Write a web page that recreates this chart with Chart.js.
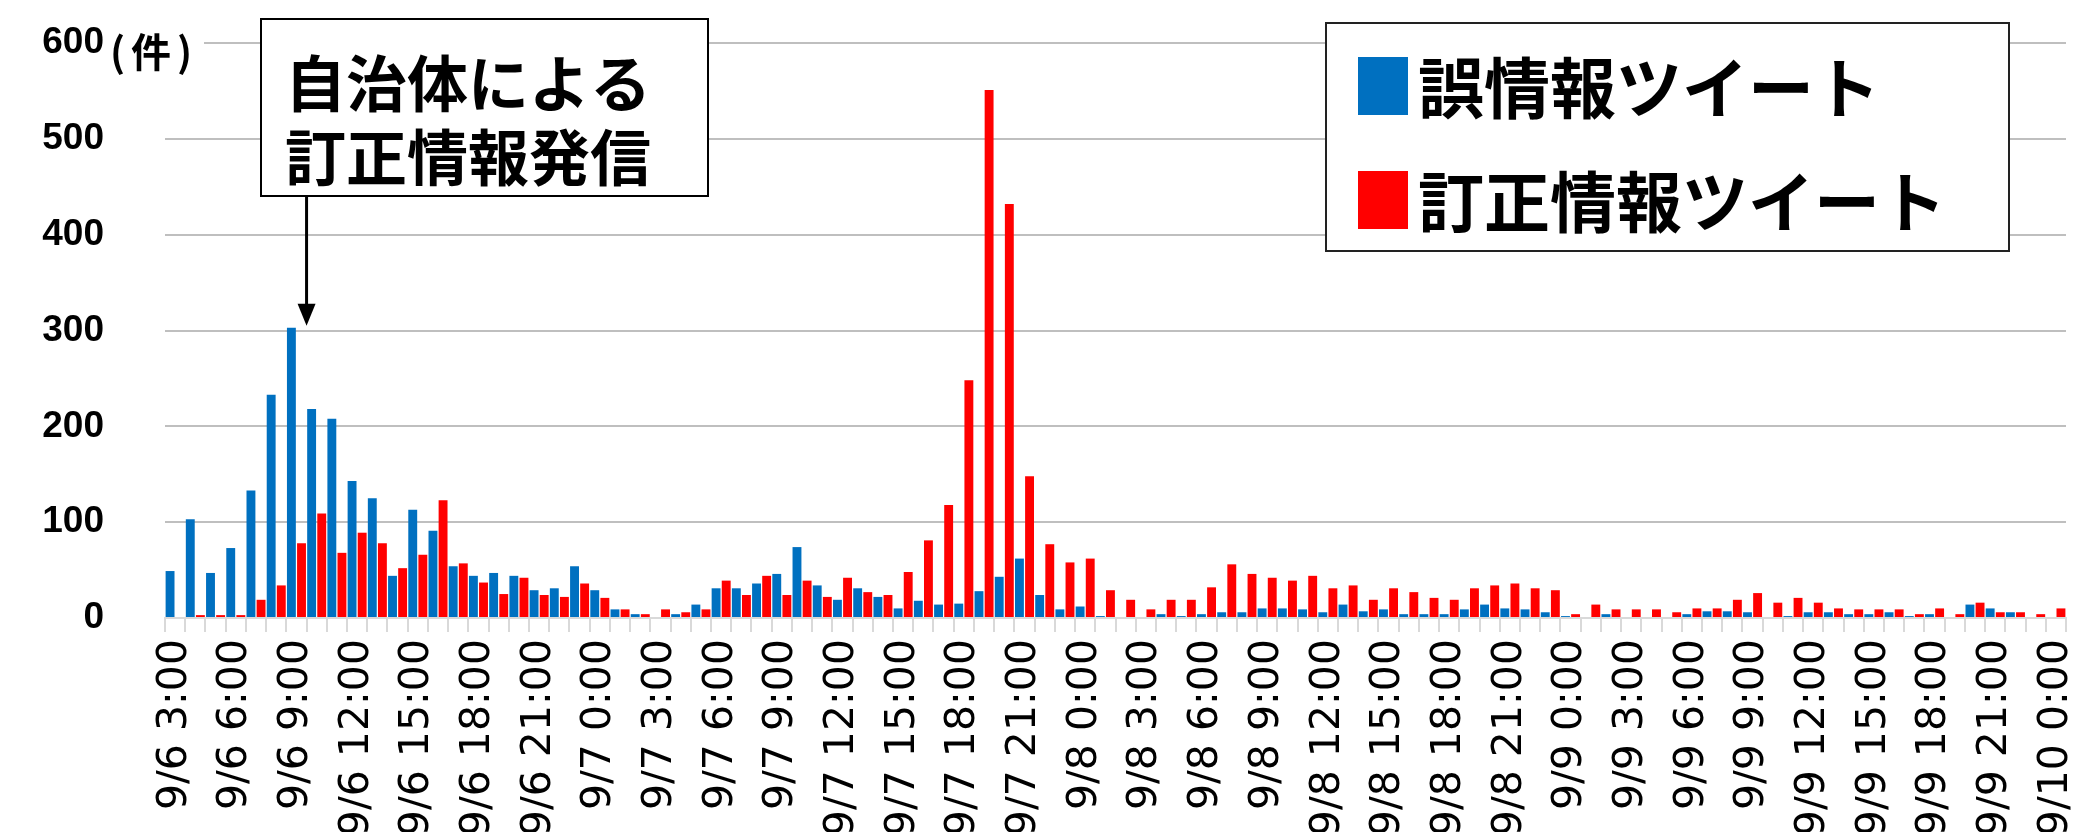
<!DOCTYPE html>
<html lang="ja">
<head>
<meta charset="utf-8">
<script src="https://cdn.jsdelivr.net/npm/chart.js@4/dist/chart.umd.min.js"></script>
<style>
    html, body { margin: 0; padding: 0; background: #fff; overflow: hidden; }
    #wrap { position: relative; width: 2096px; height: 835px; }
</style>
</head>
<body>
<div id="wrap"><canvas id="tweetChart"></canvas></div>
<script>
// hourly categories, 9/6 3:00 - 9/10 0:00
const categories = [
    '9/6 3:00', '9/6 4:00', '9/6 5:00', '9/6 6:00', '9/6 7:00', '9/6 8:00', '9/6 9:00', '9/6 10:00',
    '9/6 11:00', '9/6 12:00', '9/6 13:00', '9/6 14:00', '9/6 15:00', '9/6 16:00', '9/6 17:00', '9/6 18:00',
    '9/6 19:00', '9/6 20:00', '9/6 21:00', '9/6 22:00', '9/6 23:00',
    '9/7 0:00', '9/7 1:00', '9/7 2:00', '9/7 3:00', '9/7 4:00', '9/7 5:00', '9/7 6:00', '9/7 7:00',
    '9/7 8:00', '9/7 9:00', '9/7 10:00', '9/7 11:00', '9/7 12:00', '9/7 13:00', '9/7 14:00', '9/7 15:00',
    '9/7 16:00', '9/7 17:00', '9/7 18:00', '9/7 19:00', '9/7 20:00', '9/7 21:00', '9/7 22:00', '9/7 23:00',
    '9/8 0:00', '9/8 1:00', '9/8 2:00', '9/8 3:00', '9/8 4:00', '9/8 5:00', '9/8 6:00', '9/8 7:00',
    '9/8 8:00', '9/8 9:00', '9/8 10:00', '9/8 11:00', '9/8 12:00', '9/8 13:00', '9/8 14:00', '9/8 15:00',
    '9/8 16:00', '9/8 17:00', '9/8 18:00', '9/8 19:00', '9/8 20:00', '9/8 21:00', '9/8 22:00', '9/8 23:00',
    '9/9 0:00', '9/9 1:00', '9/9 2:00', '9/9 3:00', '9/9 4:00', '9/9 5:00', '9/9 6:00', '9/9 7:00',
    '9/9 8:00', '9/9 9:00', '9/9 10:00', '9/9 11:00', '9/9 12:00', '9/9 13:00', '9/9 14:00', '9/9 15:00',
    '9/9 16:00', '9/9 17:00', '9/9 18:00', '9/9 19:00', '9/9 20:00', '9/9 21:00', '9/9 22:00', '9/9 23:00',
    '9/10 0:00'
];

// only every third hour gets a label on the axis
const tickLabels = [
    '9/6 3:00', '9/6 6:00', '9/6 9:00', '9/6 12:00', '9/6 15:00', '9/6 18:00', '9/6 21:00',
    '9/7 0:00', '9/7 3:00', '9/7 6:00', '9/7 9:00', '9/7 12:00', '9/7 15:00', '9/7 18:00', '9/7 21:00',
    '9/8 0:00', '9/8 3:00', '9/8 6:00', '9/8 9:00', '9/8 12:00', '9/8 15:00', '9/8 18:00', '9/8 21:00',
    '9/9 0:00', '9/9 3:00', '9/9 6:00', '9/9 9:00', '9/9 12:00', '9/9 15:00', '9/9 18:00', '9/9 21:00',
    '9/10 0:00'
];

const seriesNames = ['誤情報ツイート', '訂正情報ツイート'];

const misinfoTweets = [
    49, 103, 47, 73, 133, 233, 303, 218, 208, 143,
    125, 44, 113, 91, 54, 44, 47, 44, 29, 31,
    54, 29, 9, 4, 0, 4, 14, 31, 31, 36,
    46, 74, 34, 19, 31, 22, 10, 18, 14, 15,
    28, 43, 62, 24, 9, 12, 2, 0, 0, 4,
    2, 4, 6, 6, 10, 10, 9, 6, 14, 7,
    9, 4, 4, 4, 9, 14, 10, 9, 6, 2,
    0, 4, 0, 0, 0, 4, 7, 7, 6, 0,
    2, 6, 6, 4, 4, 6, 2, 4, 0, 14,
    10, 6, 0, 0
];

const correctionTweets = [
    0, 3, 3, 3, 19, 34, 78, 109, 68, 89,
    78, 52, 66, 123, 57, 37, 25, 42, 24, 22,
    36, 21, 9, 4, 9, 6, 9, 39, 24, 44,
    24, 39, 22, 42, 27, 24, 48, 81, 118, 248,
    551, 432, 148, 77, 58, 62, 29, 19, 9, 19,
    19, 32, 56, 46, 42, 39, 44, 31, 34, 19,
    31, 27, 21, 19, 31, 34, 36, 31, 29, 4,
    14, 9, 9, 9, 6, 10, 10, 19, 26, 16,
    21, 16, 10, 9, 9, 9, 4, 10, 4, 16,
    6, 6, 4, 10
];

const yMax = 600;
const yStep = 100;

const BLUE = '#0070C0';
const RED = '#FF0000';

// callout, legend box and the (件) unit, drawn over the chart
const overlayPlugin = {
    id: 'overlay',
    afterDraw(chart) {
        const { ctx, scales: { x, y } } = chart;
        const jp = '"Noto Sans CJK JP", "Noto Sans", sans-serif';
        ctx.save();

        // unit next to the 600 label
        const y600 = y.getPixelForValue(yMax);
        ctx.fillStyle = '#fff';
        ctx.fillRect(108, y600 - 10, 96, 46);
        ctx.fillStyle = '#000';
        ctx.font = 'bold 40px ' + jp;
        ctx.letterSpacing = '6px';
        ctx.textAlign = 'left';
        ctx.textBaseline = 'middle';
        ctx.fillText('(件)', 110, y600 + 9);
        ctx.letterSpacing = '0px';

        // callout box
        ctx.fillStyle = '#fff';
        ctx.fillRect(261, 19, 447, 177);
        ctx.strokeStyle = '#000';
        ctx.lineWidth = 2;
        ctx.strokeRect(261, 19, 447, 177);
        ctx.fillStyle = '#000';
        ctx.font = 'bold 61px ' + jp;
        ctx.fillText('自治体による', 285, 84);
        ctx.fillText('訂正情報発信', 285, 158);

        // arrow down to the 9/6 9:00 peak
        const ax = (x.getPixelForValue(6) + x.getPixelForValue(7)) / 2;
        const tip = y.getPixelForValue(305);
        ctx.lineWidth = 3;
        ctx.beginPath();
        ctx.moveTo(ax, 196);
        ctx.lineTo(ax, tip - 18);
        ctx.stroke();
        ctx.beginPath();
        ctx.moveTo(ax - 9, tip - 22);
        ctx.lineTo(ax + 9, tip - 22);
        ctx.lineTo(ax, tip);
        ctx.closePath();
        ctx.fill();

        // legend
        ctx.fillStyle = '#fff';
        ctx.fillRect(1326, 23, 683, 228);
        ctx.strokeStyle = '#222';
        ctx.lineWidth = 2;
        ctx.strokeRect(1326, 23, 683, 228);
        const rows = [86, 200];
        chart.data.datasets.forEach((ds, i) => {
            ctx.fillStyle = ds.backgroundColor;
            ctx.fillRect(1358, rows[i] - 29, 50, 58);
            ctx.fillStyle = '#000';
            ctx.font = 'bold 66px ' + jp;
            ctx.fillText(ds.label, 1418, rows[i] + 2);
        });

        ctx.restore();
    }
};

const ctx = document.getElementById('tweetChart').getContext('2d');

window.tweetChart = new Chart(ctx, {
    type: 'bar',
    data: {
        labels: categories,
        datasets: [{
            label: seriesNames[0],
            data: misinfoTweets,
            backgroundColor: BLUE,
            categoryPercentage: 1.0,
            barPercentage: 0.88
        }, {
            label: seriesNames[1],
            data: correctionTweets,
            backgroundColor: RED,
            categoryPercentage: 1.0,
            barPercentage: 0.88
        }]
    },
    options: {
        responsive: true,
        maintainAspectRatio: false,
        animation: false,
        layout: {
            padding: { left: 0, right: 30, top: 43, bottom: 0 }
        },
        plugins: {
            legend: { display: false },
            tooltip: { enabled: false }
        },
        scales: {
            x: {
                afterFit: function (scale) {
                    scale.height = 217;
                    scale.paddingRight = 0;
                    scale.paddingLeft = 0;
                },
                grid: {
                    drawOnChartArea: false,
                    offset: true,
                    color: '#D9D9D9',
                    lineWidth: 2,
                    tickLength: 14
                },
                border: { color: '#D9D9D9', width: 2 },
                ticks: {
                    autoSkip: false,
                    maxRotation: 90,
                    minRotation: 90,
                    padding: 7,
                    color: '#000',
                    font: { family: '"DejaVu Sans", sans-serif', size: 41 },
                    callback: function (value, index) {
                        const label = categories[index];
                        return tickLabels.includes(label) ? label : '';
                    }
                }
            },
            y: {
                min: 0,
                max: yMax,
                afterFit: function (scale) {
                    scale.width = 165;
                    scale.paddingTop = 0;
                },
                ticks: {
                    stepSize: yStep,
                    padding: 61,
                    color: '#000',
                    font: { family: '"Liberation Sans", Arial, sans-serif', weight: 'bold', size: 37 }
                },
                grid: {
                    color: '#BFBFBF',
                    lineWidth: 2,
                    drawTicks: false
                },
                border: { display: false }
            }
        }
    },
    plugins: [overlayPlugin]
});
</script>
</body>
</html>
